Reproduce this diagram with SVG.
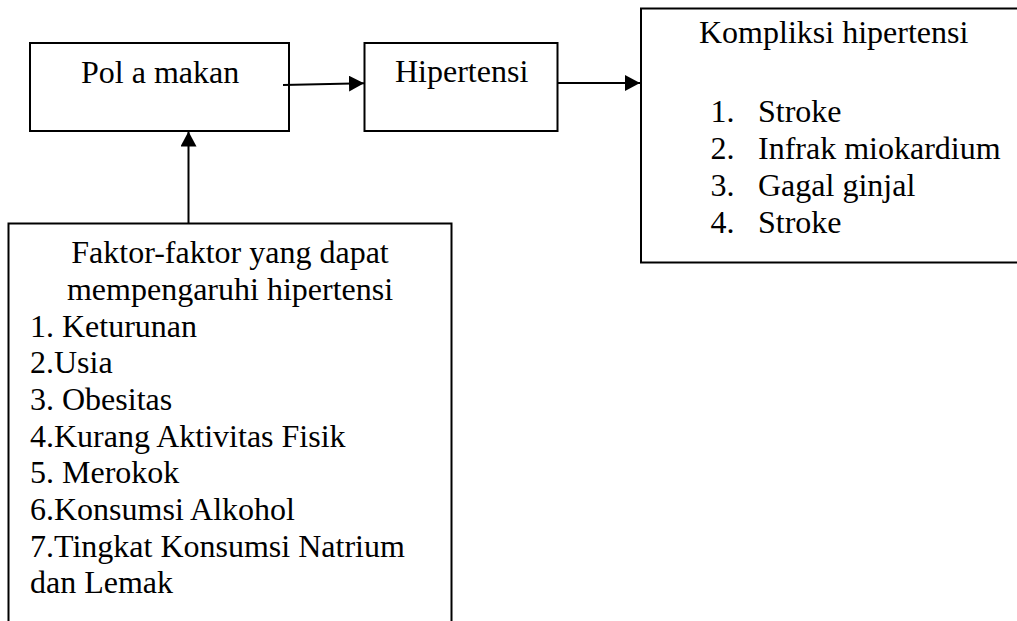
<svg xmlns="http://www.w3.org/2000/svg" width="1017" height="621" viewBox="0 0 1017 621">
<style>
.box{fill:#fff;stroke:#000;stroke-width:2}
.t{font-family:"Liberation Serif","Times New Roman",serif;font-size:32px;fill:#000}
.c{stroke:#000;stroke-width:2;fill:none}
</style>
<defs>
<marker id="ah" markerUnits="userSpaceOnUse" markerWidth="16" markerHeight="16" refX="15" refY="8" orient="auto" viewBox="0 0 16 16">
<path d="M0,0 L15,8 L0,16 z" fill="#000"/>
</marker>
</defs>
<rect width="1017" height="621" fill="#fff"/>
<g id="node-pola-makan">
<rect class="box" x="30" y="43" width="259" height="88"/>
<text class="t" x="81" y="83">Pol a makan</text>
</g>
<g id="node-hipertensi">
<rect class="box" x="364.5" y="43" width="193" height="88"/>
<text class="t" x="395" y="82">Hipertensi</text>
</g>
<g id="node-komplikasi">
<rect class="box" x="641" y="8.5" width="400" height="254"/>
<text class="t" x="699" y="43">Kompliksi hipertensi</text>
<text class="t" x="710.5" y="122">1.</text><text class="t" x="758" y="122">Stroke</text>
<text class="t" x="710.5" y="159">2.</text><text class="t" x="758" y="159">Infrak miokardium</text>
<text class="t" x="710.5" y="196">3.</text><text class="t" x="758" y="196">Gagal ginjal</text>
<text class="t" x="710.5" y="233">4.</text><text class="t" x="758" y="233">Stroke</text>
</g>
<g id="node-faktor">
<rect class="box" x="8.5" y="223.5" width="443" height="420"/>
<text class="t" x="230" y="263" text-anchor="middle">Faktor-faktor yang dapat</text>
<text class="t" x="230" y="300" text-anchor="middle">mempengaruhi hipertensi</text>
<text class="t" x="30" y="336.5">1. Keturunan</text>
<text class="t" x="30" y="373">2.Usia</text>
<text class="t" x="30" y="410">3. Obesitas</text>
<text class="t" x="30" y="446.5">4.Kurang Aktivitas Fisik</text>
<text class="t" x="30" y="483">5. Merokok</text>
<text class="t" x="30" y="520">6.Konsumsi Alkohol</text>
<text class="t" x="30" y="556.5">7.Tingkat Konsumsi Natrium</text>
<text class="t" x="30" y="593">dan Lemak</text>
</g>
<g id="connectors">
<line class="c" x1="283" y1="85" x2="364" y2="83.3" marker-end="url(#ah)"/>
<line class="c" x1="557" y1="83" x2="640" y2="83" marker-end="url(#ah)"/>
<line class="c" x1="188.5" y1="223" x2="188.5" y2="131.5" marker-end="url(#ah)"/>
</g>
</svg>
